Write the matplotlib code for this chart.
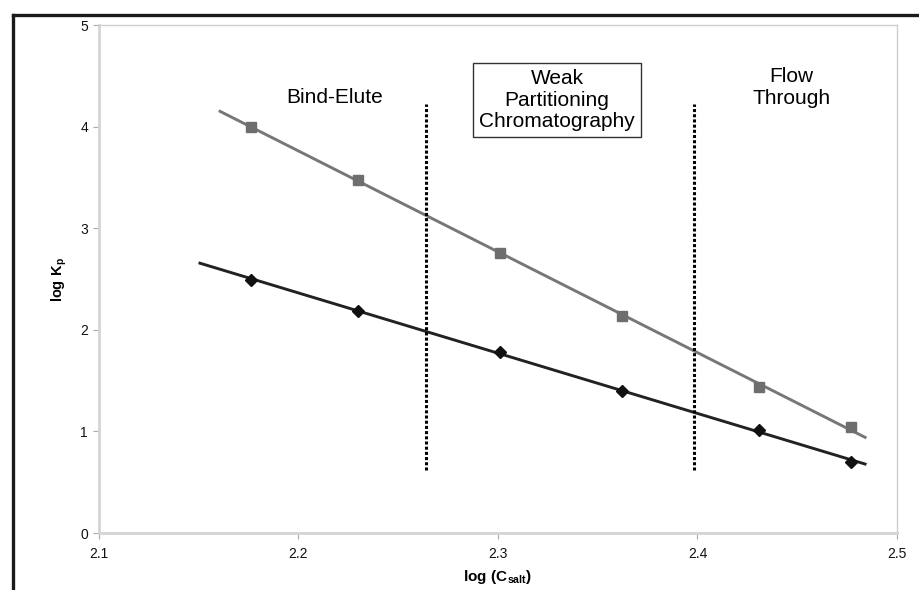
import numpy as np
import matplotlib
matplotlib.use('Agg')
import matplotlib.pyplot as plt
from matplotlib.lines import Line2D

plt.rcParams['font.family'] = ['Liberation Sans', 'DejaVu Sans']
plt.rcParams['mathtext.fontset'] = 'custom'
plt.rcParams['mathtext.rm'] = 'Liberation Sans'
plt.rcParams['mathtext.bf'] = 'Liberation Sans:bold'

# log of salt concentration
log_c = [2.176, 2.230, 2.301, 2.362, 2.431, 2.477]
# log Kp for the two proteins
kp_upper = [4.00, 3.47, 2.76, 2.14, 1.44, 1.04]
kp_lower = [2.49, 2.19, 1.78, 1.40, 1.01, 0.70]

# region boundaries
boundaries = [2.264, 2.398]

fig = plt.figure(figsize=(9.2, 5.9), dpi=100)
ax = fig.add_axes([0.1076, 0.0966, 0.8674, 0.861])

# linear trendlines, extended a bit past the data
def trend(x, y, x0, x1):
    m, b = np.polyfit(x, y, 1)
    xs = np.array([x0, x1])
    return xs, m * xs + b

xs, ys = trend(log_c, kp_upper, 2.1607, 2.484)
ax.plot(xs, ys, color='#777777', lw=2.1, zorder=2)
xs, ys = trend(log_c, kp_lower, 2.1506, 2.484)
ax.plot(xs, ys, color='#222222', lw=2.1, zorder=2)

ax.plot(log_c, kp_upper, ls='none', marker='s', ms=7.5, color='#6e6e6e', zorder=3)
ax.plot(log_c, kp_lower, ls='none', marker='D', ms=6, color='#111111', zorder=3)

for b in boundaries:
    ax.plot([b, b], [0.62, 4.22], color='black', lw=2.2, ls=(0, (1.0, 0.7)), zorder=2)

ax.text(2.218, 4.29, 'Bind-Elute', ha='center', va='center', fontsize=15)
ax.text(2.3296, 4.26, 'Weak\nPartitioning\nChromatography', ha='center', va='center',
        fontsize=15, linespacing=1.15,
        bbox=dict(boxstyle='square,pad=0.3', fc='white', ec='#333333', lw=1.0))
ax.text(2.447, 4.385, 'Flow\nThrough', ha='center', va='center', fontsize=15, linespacing=1.15)

ax.set_xlim(2.1, 2.5)
ax.set_ylim(0, 5)
ax.set_xticks([2.1, 2.2, 2.3, 2.4, 2.5])
ax.set_xticklabels(['2.1', '2.2', '2.3', '2.4', '2.5'])
ax.set_yticks([0, 1, 2, 3, 4, 5])

for s in ['left', 'bottom']:
    ax.spines[s].set_color('#d4d4d4')
    ax.spines[s].set_linewidth(2.0)
for s in ['top', 'right']:
    ax.spines[s].set_color('#cfcfcf')
    ax.spines[s].set_linewidth(1.0)
ax.tick_params(axis='both', direction='out', length=4, width=0.8, color='#aaaaaa',
               labelsize=10, labelcolor='#111111')
ax.tick_params(axis='x', pad=6)
ax.tick_params(axis='y', pad=4)

ax.set_xlabel(r'$\mathbf{log\ (C_{salt})}$', fontsize=11, labelpad=5)
ax.set_ylabel(r'$\mathbf{log\ K_p}$', fontsize=10.5, labelpad=8)

# outer frame, runs off the right and bottom edges
fx = 13.5 / 920
fy = 1 - 14.5 / 590
fig.add_artist(Line2D([fx, fx], [-0.01, fy], transform=fig.transFigure, color='#1a1a1a', lw=2.4))
fig.add_artist(Line2D([fx, 1.01], [fy, fy], transform=fig.transFigure, color='#1a1a1a', lw=2.4))

fig.savefig('out.png', dpi=100)
